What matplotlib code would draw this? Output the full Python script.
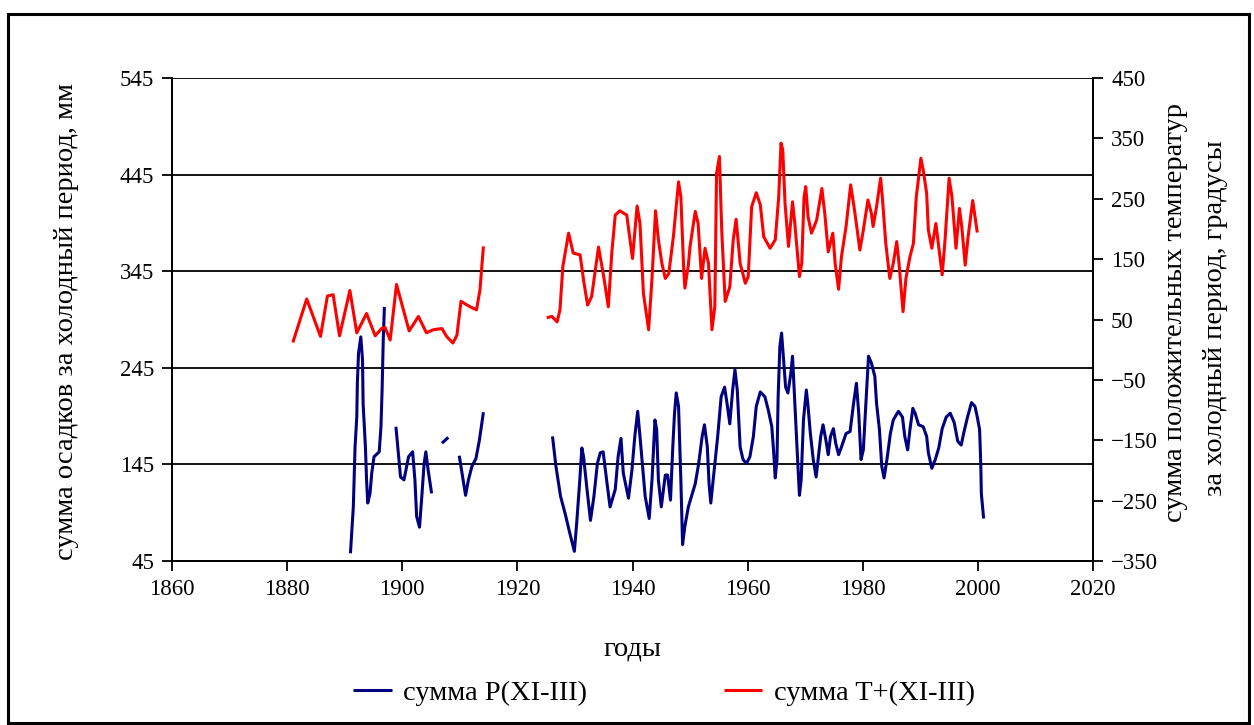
import numpy as np
import matplotlib
matplotlib.use("Agg")
import matplotlib.pyplot as plt
from matplotlib.patches import Rectangle

plt.rcParams['font.family'] = ['Liberation Serif', 'DejaVu Serif']

# Sum of positive temperatures over the cold period (XI-III), degrees (right axis)
t_years = [
    1881.0, 1883.4, 1885.8, 1887.0, 1888.0, 1889.1, 1890.9, 1892.1, 1893.8, 1895.3,
    1896.4, 1897.0, 1897.9, 1899.0, 1901.2, 1902.8, 1904.2, 1905.4, 1906.9, 1907.7,
    1908.8, 1909.5, 1910.2, 1911.8, 1912.9, 1913.5, 1914.1,
    1920.0,
    1925.1, 1926.0, 1926.9, 1927.4, 1927.9, 1928.9, 1929.7, 1930.9, 1931.5, 1932.2,
    1932.9, 1934.1, 1935.0, 1935.8, 1936.4, 1937.0, 1937.8, 1939.0, 1939.5, 1940.0,
    1940.8, 1941.3, 1941.9, 1942.8, 1943.4, 1944.0, 1944.5, 1945.1, 1945.7, 1946.3,
    1947.1, 1948.0, 1948.4, 1948.9, 1949.1, 1949.7, 1950.0, 1950.9, 1951.4, 1952.0,
    1952.6, 1953.2, 1953.8, 1954.3, 1954.6, 1955.1, 1955.5, 1956.1, 1956.9, 1957.5,
    1958.0, 1958.7, 1959.6, 1960.1, 1960.7, 1961.5, 1962.2, 1962.8, 1963.9, 1964.8,
    1965.4, 1965.8, 1966.1, 1966.5, 1967.1, 1967.8, 1968.2, 1969.0, 1969.4, 1969.8,
    1970.1, 1970.5, 1971.1, 1972.0, 1972.9, 1973.4, 1974.0, 1974.8, 1975.2, 1975.8,
    1976.3, 1977.1, 1977.9, 1978.6, 1979.5, 1980.1, 1980.9, 1981.5, 1981.8, 1982.4,
    1983.1, 1983.4, 1984.0, 1984.7, 1985.3, 1985.9, 1986.3, 1987.0, 1987.5, 1988.2,
    1988.8, 1989.3, 1990.1, 1990.5, 1991.1, 1991.4, 1992.0, 1992.7, 1993.4, 1993.8,
    1994.3, 1995.0, 1995.5, 1996.2, 1996.8, 1997.2, 1997.8, 1998.3, 1999.1, 1999.9,
]
t_sum = [
    12, 84, 22, 89, 91, 23, 98, 28, 60, 23,
    35, 37, 16, 108, 31, 55, 28, 33, 35, 22,
    11, 24, 80, 71, 66, 99, 171,
    np.nan,
    53, 55, 46, 66, 138, 193, 160, 157, 115, 74,
    88, 170, 121, 71, 160, 223, 230, 223, 187, 151,
    238, 209, 93, 33, 120, 230, 182, 143, 118, 126,
    187, 278, 253, 132, 102, 140, 171, 229, 209, 118,
    168, 143, 33, 71, 292, 320, 198, 80, 104, 182,
    216, 143, 110, 121, 237, 260, 240, 187, 168, 182,
    253, 342, 331, 242, 171, 245, 209, 121, 143, 253,
    270, 220, 193, 215, 267, 226, 162, 193, 143, 100,
    154, 204, 273, 229, 165, 198, 248, 226, 204, 237,
    284, 253, 176, 118, 143, 179, 143, 63, 118, 154,
    176, 253, 317, 298, 259, 198, 168, 209, 154, 124,
    182, 284, 253, 168, 234, 204, 140, 187, 247, 194,
]

# Sum of precipitation over the cold period (XI-III), mm (left axis)
p_years = [
    1891.0, 1891.5, 1891.8, 1892.1, 1892.2, 1892.4, 1892.8, 1893.1, 1893.2, 1893.6,
    1893.8, 1894.0, 1894.4, 1894.7, 1895.1, 1896.0, 1896.3, 1896.5, 1896.7, 1896.9,
    1898.0,
    1898.9, 1899.7, 1900.3, 1901.1, 1901.8, 1902.2, 1902.5, 1903.0, 1903.4, 1903.8,
    1904.1, 1904.5, 1905.1,
    1906.0,
    1906.9, 1908.0,
    1909.0,
    1909.9, 1910.5, 1911.0, 1911.5, 1912.1, 1912.8, 1913.4, 1914.1,
    1920.0,
    1926.1, 1926.7, 1927.5, 1928.3, 1929.1, 1929.9, 1930.3, 1930.8, 1931.2, 1931.5,
    1932.1, 1932.7, 1933.3, 1933.9, 1934.4, 1934.9, 1935.5, 1936.1, 1937.0, 1937.5,
    1938.0, 1938.4, 1939.3, 1939.9, 1940.4, 1940.9, 1941.3, 1942.2, 1942.9, 1943.4,
    1943.9, 1944.2, 1944.5, 1945.0, 1945.7, 1946.1, 1946.6, 1947.0, 1947.3, 1947.6,
    1948.0, 1948.4, 1948.7, 1949.1, 1949.7, 1950.3, 1950.9, 1951.5, 1952.1, 1952.5,
    1953.0, 1953.3, 1953.6, 1954.2, 1954.8, 1955.4, 1956.0, 1956.5, 1956.9, 1957.4,
    1957.8, 1958.2, 1958.7, 1959.2, 1959.8, 1960.4, 1961.0, 1961.5, 1962.2, 1963.0,
    1963.6, 1964.2, 1964.5, 1964.8, 1965.1, 1965.3, 1965.6, 1965.9, 1966.2, 1966.6,
    1967.0, 1967.5, 1967.8, 1968.2, 1968.6, 1969.0, 1969.3, 1969.7, 1970.2, 1970.5,
    1970.9, 1971.4, 1971.9, 1972.3, 1972.7, 1973.1, 1973.6, 1974.0, 1974.4, 1974.9,
    1975.3, 1975.8, 1976.3, 1977.1, 1977.8, 1978.4, 1978.9, 1979.3, 1979.7, 1980.1,
    1980.6, 1981.0, 1981.5, 1982.1, 1982.4, 1982.9, 1983.3, 1983.7, 1984.2, 1984.8,
    1985.3, 1986.2, 1986.9, 1987.3, 1987.8, 1988.2, 1988.7, 1989.1, 1989.7, 1990.5,
    1991.1, 1991.4, 1992.0, 1992.6, 1993.2, 1993.8, 1994.5, 1995.2, 1995.9, 1996.5,
    1997.1, 1997.6, 1998.2, 1998.9, 1999.5, 1999.9, 2000.3, 2000.5, 2000.6, 2001.0,
]
p_sum = [
    53, 101, 163, 194, 229, 260, 277, 253, 208, 163,
    129, 105, 115, 136, 153, 158, 184, 222, 274, 308,
    np.nan,
    184, 132, 129, 153, 158, 129, 91, 80, 112, 146,
    158, 139, 115,
    np.nan,
    167, 173,
    np.nan,
    154, 132, 113, 129, 143, 151, 170, 199,
    np.nan,
    174, 143, 112, 94, 74, 55, 84, 125, 162, 153,
    119, 87, 112, 146, 157, 158, 129, 101, 119, 153,
    172, 136, 110, 139, 174, 200, 174, 112, 89, 130,
    191, 181, 129, 101, 134, 134, 108, 163, 198, 219,
    205, 129, 62, 81, 101, 113, 125, 146, 174, 186,
    163, 125, 105, 139, 174, 215, 225, 205, 187, 222,
    243, 222, 163, 150, 146, 153, 174, 205, 220, 215,
    201, 184, 160, 131, 150, 215, 267, 281, 257, 225,
    219, 239, 257, 208, 160, 113, 129, 191, 222, 205,
    177, 150, 132, 153, 174, 186, 170, 155, 174, 182,
    167, 155, 163, 177, 179, 208, 229, 198, 150, 160,
    215, 257, 250, 236, 208, 181, 143, 131, 150, 177,
    191, 200, 194, 174, 160, 181, 203, 198, 186, 184,
    174, 157, 141, 150, 162, 182, 194, 198, 188, 169,
    165, 179, 194, 209, 205, 194, 181, 146, 115, 89,
]

x_ticks = [1860, 1880, 1900, 1920, 1940, 1960, 1980, 2000, 2020]
left_ticks = [45, 145, 245, 345, 445, 545]
right_ticks = [-350, -250, -150, -50, 50, 150, 250, 350, 450]

W, H = 1254, 725
LABEL_FS = 20.5
fig = plt.figure(figsize=(W / 100, H / 100), dpi=100)
fig.patch.set_facecolor('white')

ax = fig.add_axes([172 / W, 1 - 561 / H, (1093 - 172) / W, (561 - 78) / H])
ax2 = ax.twinx()

for y in left_ticks:
    ax.axhline(y, color='black', lw=1.3, zorder=1)

line_p, = ax.plot(p_years, p_sum, color='#000080', lw=2.2,
                  solid_joinstyle='round', solid_capstyle='butt', zorder=3)
line_t, = ax2.plot(t_years, t_sum, color='#FF0000', lw=2.2,
                   solid_joinstyle='round', solid_capstyle='butt', zorder=3)

ax.set_xlim(1860, 2020)
ax.set_ylim(45, 545)
ax2.set_ylim(-350, 450)
ax.set_xticks(x_ticks)
ax.set_yticks(left_ticks)
ax2.set_yticks(right_ticks)

for a in (ax, ax2):
    for s in a.spines.values():
        s.set_color('black')
        s.set_linewidth(1.3)
    a.spines['top'].set_visible(False)
    a.tick_params(axis='both', direction='out', length=7, width=1.3,
                  labelsize=16.5, colors='black', pad=6)

ax.set_xlabel('годы', fontsize=LABEL_FS, labelpad=26)
fig.text(67 / W, 1 - 322 / H, 'сумма осадков за холодный период, мм',
         rotation=90, ha='center', va='center', fontsize=LABEL_FS)
fig.text(1176 / W, 1 - 312 / H, 'сумма положительных температур',
         rotation=90, ha='center', va='center', fontsize=LABEL_FS)
fig.text(1216 / W, 1 - 318 / H, 'за холодный период, градусы',
         rotation=90, ha='center', va='center', fontsize=LABEL_FS)

fig.legend([line_p, line_t], ['сумма P(XI-III)', 'сумма T+(XI-III)'],
           loc='center', bbox_to_anchor=(664 / W, 1 - 693 / H), ncol=2,
           frameon=False, fontsize=LABEL_FS, handlelength=1.35,
           handletextpad=0.4, columnspacing=4.8)

fig.patches.append(Rectangle((8 / W, 2 / H), (1249 - 8) / W, (723 - 14) / H,
                             transform=fig.transFigure, fill=False,
                             edgecolor='black', linewidth=2.2))

fig.savefig('out.png', dpi=100, facecolor='white')
